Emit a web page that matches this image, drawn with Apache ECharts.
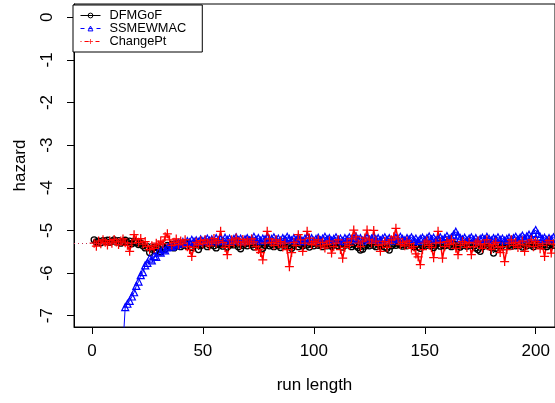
<!DOCTYPE html>
<html>
<head>
<meta charset="utf-8">
<script src="https://cdn.jsdelivr.net/npm/echarts@6/dist/echarts.min.js"></script>
<style>
html, body { margin: 0; padding: 0; background: #fff; }
#main { width: 555px; height: 403px; }
</style>
</head>
<body>
<div id="main"></div>
<script>
var seriesNames = ['DFMGoF', 'SSMEWMAC', 'ChangePt'];
var xTicks = [0, 50, 100, 150, 200];
var yTicks = [-7, -6, -5, -4, -3, -2, -1, 0];
var refHazard = -5.298; // log(1/200)

// run length 1..210
var dfmgof = [
  -5.22,-5.27,-5.25,-5.29,-5.24,-5.26,-5.23,-5.28,-5.25,-5.22,
  -5.27,-5.24,-5.30,-5.26,-5.23,-5.28,-5.25,-5.31,-5.27,-5.29,
  -5.33,-5.30,-5.36,-5.41,-5.38,-5.52,-5.44,-5.40,-5.47,-5.42,
  -5.50,-5.38,-5.44,-5.35,-5.39,-5.33,-5.41,-5.36,-5.30,-5.38,
  -5.34,-5.29,-5.37,-5.32,-5.40,-5.35,-5.31,-5.45,-5.36,-5.33,
  -5.30,-5.38,-5.34,-5.29,-5.36,-5.41,-5.33,-5.30,-5.37,-5.32,
  -5.39,-5.35,-5.31,-5.34,-5.29,-5.38,-5.43,-5.35,-5.32,-5.36,
  -5.30,-5.34,-5.39,-5.33,-5.37,-5.31,-5.42,-5.35,-5.30,-5.36,
  -5.33,-5.38,-5.32,-5.35,-5.40,-5.34,-5.37,-5.31,-5.36,-5.42,
  -5.35,-5.30,-5.38,-5.33,-5.36,-5.31,-5.34,-5.39,-5.32,-5.36,
  -5.30,-5.35,-5.33,-5.38,-5.32,-5.36,-5.31,-5.37,-5.34,-5.30,
  -5.36,-5.33,-5.39,-5.35,-5.31,-5.34,-5.38,-5.32,-5.36,-5.40,
  -5.46,-5.44,-5.37,-5.33,-5.36,-5.31,-5.35,-5.38,-5.32,-5.36,
  -5.34,-5.39,-5.42,-5.46,-5.36,-5.32,-5.35,-5.30,-5.34,-5.37,
  -5.33,-5.36,-5.31,-5.35,-5.38,-5.34,-5.39,-5.42,-5.36,-5.32,
  -5.35,-5.31,-5.36,-5.40,-5.34,-5.30,-5.37,-5.33,-5.36,-5.31,
  -5.35,-5.38,-5.32,-5.36,-5.33,-5.39,-5.35,-5.31,-5.37,-5.34,
  -5.30,-5.36,-5.41,-5.45,-5.49,-5.38,-5.33,-5.36,-5.31,-5.40,
  -5.53,-5.42,-5.36,-5.32,-5.35,-5.38,-5.31,-5.34,-5.37,-5.33,
  -5.36,-5.30,-5.35,-5.39,-5.33,-5.36,-5.31,-5.34,-5.38,-5.32,
  -5.35,-5.30,-5.36,-5.33,-5.38,-5.34,-5.31,-5.35,-5.33,-5.37
];
var ssmewmac = [
  null,null,null,null,null,null,null,null,null,null,
  null,null,-8.50,-7.70,-6.80,-6.72,-6.65,-6.55,-6.45,-6.30,
  -6.20,-6.05,-5.98,-5.82,-5.76,-5.66,-5.70,-5.60,-5.62,-5.50,
  -5.52,-5.44,-5.47,-5.40,-5.36,-5.38,-5.32,-5.35,-5.29,-5.31,
  -5.27,-5.30,-5.25,-5.28,-5.22,-5.26,-5.23,-5.27,-5.21,-5.25,
  -5.22,-5.19,-5.24,-5.21,-5.26,-5.18,-5.23,-5.20,-5.25,-5.17,
  -5.22,-5.19,-5.24,-5.20,-5.16,-5.23,-5.19,-5.25,-5.21,-5.18,
  -5.23,-5.20,-5.15,-5.22,-5.18,-5.24,-5.19,-5.21,-5.17,-5.23,
  -5.20,-5.16,-5.22,-5.19,-5.24,-5.18,-5.21,-5.15,-5.20,-5.23,
  -5.18,-5.22,-5.17,-5.21,-5.25,-5.19,-5.16,-5.22,-5.18,-5.24,
  -5.20,-5.17,-5.23,-5.19,-5.15,-5.21,-5.18,-5.24,-5.20,-5.16,
  -5.22,-5.19,-5.25,-5.18,-5.21,-5.16,-5.23,-5.19,-5.14,-5.21,
  -5.18,-5.24,-5.20,-5.17,-5.22,-5.19,-5.15,-5.21,-5.18,-5.23,
  -5.19,-5.16,-5.22,-5.18,-5.24,-5.20,-5.17,-5.21,-5.15,-5.20,
  -5.23,-5.18,-5.21,-5.16,-5.22,-5.19,-5.25,-5.20,-5.17,-5.22,
  -5.18,-5.14,-5.21,-5.17,-5.23,-5.19,-5.16,-5.22,-5.18,-5.13,
  -5.20,-5.16,-5.10,-5.03,-5.12,-5.18,-5.21,-5.17,-5.23,-5.19,
  -5.16,-5.22,-5.18,-5.24,-5.20,-5.17,-5.21,-5.15,-5.20,-5.23,
  -5.18,-5.21,-5.16,-5.22,-5.19,-5.24,-5.20,-5.17,-5.22,-5.18,
  -5.15,-5.21,-5.17,-5.12,-5.19,-5.14,-5.10,-5.16,-5.06,-4.99,
  -5.08,-5.15,-5.20,-5.17,-5.22,-5.18,-5.21,-5.16,-5.20,-5.18
];
var changept = [
  -5.30,-5.37,-5.25,-5.31,-5.22,-5.28,-5.34,-5.24,-5.30,-5.21,
  -5.27,-5.33,-5.25,-5.20,-5.29,-5.35,-5.49,-5.30,-5.10,-5.22,
  -5.28,-5.19,-5.32,-5.26,-5.38,-5.45,-5.36,-5.42,-5.30,-5.34,
  -5.25,-5.31,-5.15,-5.08,-5.22,-5.35,-5.28,-5.20,-5.33,-5.25,
  -5.30,-5.22,-5.38,-5.45,-5.61,-5.40,-5.28,-5.33,-5.24,-5.31,
  -5.22,-5.29,-5.36,-5.25,-5.19,-5.30,-5.24,-5.02,-5.28,-5.40,
  -5.57,-5.35,-5.22,-5.30,-5.18,-5.27,-5.34,-5.21,-5.29,-5.25,
  -5.32,-5.20,-5.27,-5.38,-5.45,-5.52,-5.69,-5.30,-5.02,-5.20,
  -5.28,-5.35,-5.22,-5.31,-5.26,-5.39,-5.30,-5.45,-5.85,-5.52,
  -5.28,-5.35,-5.10,-5.22,-5.49,-5.30,-5.02,-5.18,-5.33,-5.26,
  -5.30,-5.22,-5.36,-5.28,-5.41,-5.33,-5.25,-5.53,-5.38,-5.30,
  -5.22,-5.45,-5.65,-5.40,-5.28,-5.35,-5.20,-4.99,-5.15,-5.30,
  -5.38,-5.25,-5.18,-4.99,-5.22,-5.30,-5.00,-5.25,-5.35,-5.49,
  -5.32,-5.26,-5.40,-5.30,-5.22,-5.15,-4.95,-5.20,-5.33,-5.28,
  -5.36,-5.25,-5.31,-5.42,-5.38,-5.55,-5.62,-5.80,-5.45,-5.30,
  -5.25,-5.35,-5.40,-5.64,-5.30,-5.02,-5.28,-5.65,-5.38,-5.26,
  -5.33,-5.22,-5.30,-5.42,-5.57,-5.35,-5.26,-5.31,-5.40,-5.28,
  -5.57,-5.38,-5.30,-5.25,-5.34,-5.42,-5.31,-5.22,-5.36,-5.45,
  -5.33,-5.28,-5.40,-5.52,-5.38,-5.73,-5.45,-5.30,-5.22,-5.35,
  -5.28,-5.40,-5.33,-5.25,-5.49,-5.36,-5.30,-5.22,-5.38,-5.26,
  -5.31,-5.43,-5.35,-5.61,-5.30,-5.24,-5.53,-5.32,-5.28,-5.35
];

function pairs(arr) {
  var out = [];
  for (var i = 0; i < arr.length; i++) {
    out.push([i + 1, arr[i]]);
  }
  return out;
}

var plusPath = 'path://M-0.14,-1 L0.14,-1 L0.14,-0.14 L1,-0.14 L1,0.14 L0.14,0.14 L0.14,1 L-0.14,1 L-0.14,0.14 L-1,0.14 L-1,-0.14 L-0.14,-0.14 Z';
var font = "'Liberation Sans', Arial, sans-serif";

var dom = document.getElementById('main');
var myChart = echarts.init(dom);
var option = {
  animation: false,
  backgroundColor: '#fff',
  textStyle: { fontFamily: font },
  grid: {
    left: 74,
    top: 4,
    right: -2,
    bottom: 403 - 327,
    show: true,
    borderColor: '#000',
    borderWidth: 1,
    backgroundColor: 'transparent'
  },
  legend: {
    orient: 'vertical',
    left: 73,
    top: 5,
    // legend keeps R's line types (lty 1, 2, 4)
    data: [{
      name: seriesNames[0],
      itemStyle: { color: 'rgba(0,0,0,0)', borderColor: '#000', borderWidth: 1 },
      lineStyle: { color: '#000', width: 1, type: 'solid' }
    }, {
      name: seriesNames[1],
      itemStyle: { color: 'rgba(0,0,0,0)', borderColor: '#0000ff', borderWidth: 1 },
      lineStyle: { color: '#0000ff', width: 1, type: [4, 4] }
    }, {
      name: seriesNames[2],
      itemStyle: { color: '#ff0000', borderWidth: 0 },
      lineStyle: { color: '#ff0000', width: 1, type: [1, 3, 4, 3] }
    }],
    padding: [4, 16, 4, 7],
    itemWidth: 20,
    itemHeight: 6,
    itemGap: 0,
    borderColor: '#000',
    borderWidth: 1,
    backgroundColor: '#fff',
    textStyle: {
      fontFamily: font,
      fontSize: 12.8,
      color: '#000',
      lineHeight: 13,
      padding: [0, 0, 0, 4]
    }
  },
  xAxis: {
    type: 'value',
    min: -8.08,
    max: 208.7,
    name: 'run length',
    nameLocation: 'middle',
    nameGap: 50,
    nameTextStyle: { fontFamily: font, fontSize: 17, color: '#000' },
    splitLine: { show: false },
    axisLine: { show: true, onZero: false, lineStyle: { color: '#000', width: 1 } },
    axisTick: { show: true, length: 7, customValues: xTicks, lineStyle: { color: '#000' } },
    axisLabel: { customValues: xTicks, margin: 16, fontSize: 17, color: '#000', fontFamily: font }
  },
  yAxis: {
    type: 'value',
    min: -7.265,
    max: 0.311,
    name: 'hazard',
    nameLocation: 'middle',
    nameGap: 45,
    nameTextStyle: { fontFamily: font, fontSize: 17, color: '#000' },
    splitLine: { show: false },
    axisLine: { show: true, onZero: false, lineStyle: { color: '#000', width: 1 } },
    axisTick: { show: true, length: 7, customValues: yTicks, lineStyle: { color: '#000' } },
    axisLabel: { customValues: yTicks, rotate: 90, margin: 18, fontSize: 17, color: '#000', fontFamily: font }
  },
  series: [{
    name: 'DFMGoF',
    type: 'line',
    data: pairs(dfmgof),
    symbol: 'circle',
    symbolSize: 6,
    itemStyle: { color: 'rgba(0,0,0,0)', borderColor: '#000', borderWidth: 1.3 },
    lineStyle: { color: '#000', width: 1 },
    markLine: {
      silent: true,
      symbol: 'none',
      label: { show: false },
      lineStyle: { color: '#c03050', type: [1, 3], width: 1 },
      data: [{ yAxis: refHazard }]
    }
  }, {
    name: 'SSMEWMAC',
    type: 'line',
    data: pairs(ssmewmac),
    symbol: 'triangle',
    symbolSize: 7,
    connectNulls: false,
    itemStyle: { color: 'rgba(0,0,0,0)', borderColor: '#0000ff', borderWidth: 1.2 },
    lineStyle: { color: '#0000ff', width: 1 }
  }, {
    name: 'ChangePt',
    type: 'line',
    data: pairs(changept),
    symbol: plusPath,
    symbolSize: 9,
    itemStyle: { color: '#ff0000' },
    lineStyle: { color: '#ff0000', width: 1.5 }
  }]
};
if (option && typeof option === 'object') {
  myChart.setOption(option, true);
}
</script>
</body>
</html>
